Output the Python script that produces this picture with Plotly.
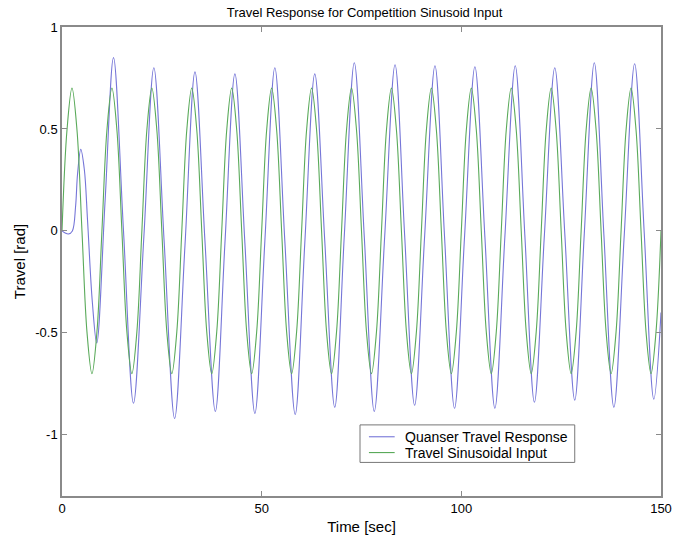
import plotly.graph_objects as go

# ---- data ----
time_response = [0, 0.8, 1.6, 2.6, 3.4, 3.9, 4.7, 5.6, 6.4, 7.6, 8.7, 10.8, 12.9,
                 15.4, 17.9, 20.5, 23.0, 25.6, 28.2, 30.8, 33.3, 35.8, 38.4,
                 40.8, 43.3, 45.8, 48.3, 50.8, 53.3, 55.8, 58.4, 60.8, 63.3,
                 65.8, 68.3, 70.7, 73.2, 75.7, 78.2, 80.8, 83.4, 85.8, 88.3,
                 90.8, 93.4, 95.8, 98.3, 100.8, 103.4, 105.9, 108.4, 110.9, 113.5,
                 115.9, 118.3, 120.8, 123.4, 125.9, 128.4, 130.8, 133.3, 135.7, 138.2,
                 140.8, 143.4, 145.8, 148.2, 150]
travel_response = [0, -0.01, -0.015, 0.0, 0.12, 0.28, 0.40, 0.30, 0.05, -0.35, -0.55, 0.15, 0.85,
                   0.0, -0.845, -0.03, 0.80, -0.06, -0.92, -0.07, 0.78, -0.05, -0.885,
                   -0.06, 0.77, -0.06, -0.895, -0.05, 0.80, -0.05, -0.90, -0.06, 0.77,
                   -0.05, -0.865, -0.02, 0.825, -0.03, -0.885, -0.03, 0.815, -0.02, -0.855,
                   -0.03, 0.81, -0.03, -0.87, -0.03, 0.805, -0.03, -0.87, -0.03, 0.81,
                   -0.02, -0.84, -0.02, 0.80, -0.01, -0.83, -0.01, 0.825, -0.02, -0.865,
                   -0.02, 0.82, -0.01, -0.825, -0.40]

time_input = [0, 1.25, 2.5, 3.75, 5, 6.25, 7.5, 8.75, 10, 11.25, 12.5, 13.75, 15, 16.25, 17.5, 18.75,
              20, 21.25, 22.5, 23.75, 25, 26.25, 27.5, 28.75, 30, 31.25, 32.5, 33.75, 35, 36.25, 37.5, 38.75,
              40, 41.25, 42.5, 43.75, 45, 46.25, 47.5, 48.75, 50, 51.25, 52.5, 53.75, 55, 56.25, 57.5, 58.75,
              60, 61.25, 62.5, 63.75, 65, 66.25, 67.5, 68.75, 70, 71.25, 72.5, 73.75, 75, 76.25, 77.5, 78.75,
              80, 81.25, 82.5, 83.75, 85, 86.25, 87.5, 88.75, 90, 91.25, 92.5, 93.75, 95, 96.25, 97.5, 98.75,
              100, 101.25, 102.5, 103.75, 105, 106.25, 107.5, 108.75, 110, 111.25, 112.5, 113.75, 115, 116.25, 117.5, 118.75,
              120, 121.25, 122.5, 123.75, 125, 126.25, 127.5, 128.75, 130, 131.25, 132.5, 133.75, 135, 136.25, 137.5, 138.75,
              140, 141.25, 142.5, 143.75, 145, 146.25, 147.5, 148.75, 150]
travel_input = [0, 0.495, 0.7, 0.495, 0, -0.495, -0.7, -0.495, 0, 0.495, 0.7, 0.495, 0, -0.495, -0.7, -0.495,
                0, 0.495, 0.7, 0.495, 0, -0.495, -0.7, -0.495, 0, 0.495, 0.7, 0.495, 0, -0.495, -0.7, -0.495,
                0, 0.495, 0.7, 0.495, 0, -0.495, -0.7, -0.495, 0, 0.495, 0.7, 0.495, 0, -0.495, -0.7, -0.495,
                0, 0.495, 0.7, 0.495, 0, -0.495, -0.7, -0.495, 0, 0.495, 0.7, 0.495, 0, -0.495, -0.7, -0.495,
                0, 0.495, 0.7, 0.495, 0, -0.495, -0.7, -0.495, 0, 0.495, 0.7, 0.495, 0, -0.495, -0.7, -0.495,
                0, 0.495, 0.7, 0.495, 0, -0.495, -0.7, -0.495, 0, 0.495, 0.7, 0.495, 0, -0.495, -0.7, -0.495,
                0, 0.495, 0.7, 0.495, 0, -0.495, -0.7, -0.495, 0, 0.495, 0.7, 0.495, 0, -0.495, -0.7, -0.495,
                0, 0.495, 0.7, 0.495, 0, -0.495, -0.7, -0.495, 0]

series_names = ["Quanser Travel Response", "Travel Sinusoidal Input"]
series_colors = ["#7676d8", "#5aaa5a"]

x_ticks = [0, 50, 100, 150]
y_ticks = [-1, -0.5, 0, 0.5, 1]
y_tick_labels = ["-1", "-0.5", "0", "0.5", "1"]

FONT = "Arial, Liberation Sans, Helvetica, sans-serif"
AXIS_COLOR = "#8a8a8a"

fig = go.Figure()
fig.add_trace(go.Scatter(
    x=time_response, y=travel_response, mode="lines", name=series_names[0],
    line=dict(color=series_colors[0], width=1.1, shape="spline", smoothing=1.0),
))
fig.add_trace(go.Scatter(
    x=time_input, y=travel_input, mode="lines", name=series_names[1],
    line=dict(color=series_colors[1], width=1.1, shape="spline", smoothing=1.0),
))

axis_common = dict(
    showgrid=False, zeroline=False, showline=True, linecolor=AXIS_COLOR, linewidth=1.5,
    mirror="ticks", ticks="inside", ticklen=5, tickcolor=AXIS_COLOR, tickwidth=1,
    tickfont=dict(family=FONT, size=13, color="#000000"),
)

# MATLAB-style legend box (compact rows), drawn in paper coordinates
box_x0, box_x1, box_y0, box_y1 = 0.4975, 0.856, 0.0716, 0.1516
row_y = [0.1263, 0.0926]
line_x0, line_x1, text_x = 0.5124, 0.5554, 0.5686

shapes = [dict(type="rect", xref="paper", yref="paper", x0=box_x0, x1=box_x1, y0=box_y0, y1=box_y1,
               line=dict(color="#777777", width=1), fillcolor="white", layer="above")]
annotations = []
for name, color, yy in zip(series_names, series_colors, row_y):
    shapes.append(dict(type="line", xref="paper", yref="paper", x0=line_x0, x1=line_x1, y0=yy, y1=yy,
                       line=dict(color=color, width=1.1), layer="above"))
    annotations.append(dict(text=name, xref="paper", yref="paper", x=text_x, y=yy, xanchor="left",
                            yanchor="middle", showarrow=False,
                            font=dict(family=FONT, size=14, color="#000000")))

fig.update_layout(
    width=684, height=545,
    margin=dict(l=62, r=17, t=27, b=43),
    paper_bgcolor="white", plot_bgcolor="white",
    title=dict(text="Travel Response for Competition Sinusoid Input",
               x=(62 + 667) / 2 / 684, xanchor="center", y=1 - 12 / 545, yanchor="middle",
               font=dict(family=FONT, size=13, color="#000000")),
    xaxis=dict(range=[0, 150], tickvals=x_ticks, ticktext=[str(v) for v in x_ticks],
               title=dict(text="Time [sec]", font=dict(family=FONT, size=15, color="#000000"), standoff=6),
               **axis_common),
    yaxis=dict(range=[-1.3, 1], tickvals=y_ticks, ticktext=y_tick_labels,
               title=dict(text="Travel [rad]", font=dict(family=FONT, size=15, color="#000000"), standoff=6),
               **axis_common),
    shapes=shapes,
    annotations=annotations,
    showlegend=False,
)

fig.write_html("out.html")
